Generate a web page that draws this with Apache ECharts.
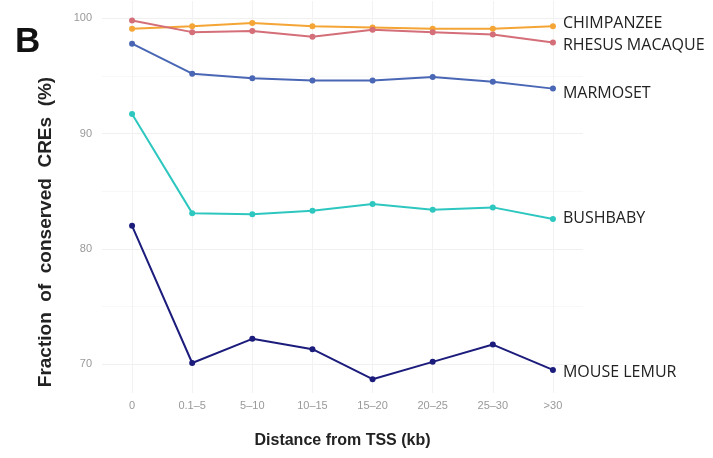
<!DOCTYPE html>
<html>
<head>
<meta charset="utf-8">
<script src="https://cdn.jsdelivr.net/npm/echarts@6/dist/echarts.min.js"></script>
</head>
<body style="margin: 0; padding: 0; background: #fff;">
<div id="chart" style="width: 713px; height: 458px;"></div>
<script>
// distance bins (kb)
const categories = ['0', '0.1\u20135', '5\u201310', '10\u201315', '15\u201320', '20\u201325', '25\u201330', '>30']

// fraction of conserved CREs (%) per species
const chimpanzee = [99.1, 99.3, 99.6, 99.3, 99.2, 99.1, 99.1, 99.3]
const rhesusMacaque = [99.8, 98.8, 98.9, 98.4, 99.0, 98.8, 98.6, 97.9]
const marmoset = [97.8, 95.2, 94.8, 94.6, 94.6, 94.9, 94.5, 93.9]
const bushbaby = [91.7, 83.1, 83.0, 83.3, 83.9, 83.4, 83.6, 82.6]
const mouseLemur = [82.0, 70.1, 72.2, 71.3, 68.7, 70.2, 71.7, 69.5]

const labelFont = '"Open Sans", "Liberation Sans", sans-serif'
const axisFont = '"Liberation Sans", Arial, sans-serif'

function makeSeries(name, data, color, offsetY) {
  return {
    name,
    type: 'line',
    data,
    symbol: 'circle',
    symbolSize: 6,
    lineStyle: { color, width: 2 },
    itemStyle: { color },
    endLabel: {
      show: true,
      formatter: '{a}',
      color: '#222',
      fontFamily: labelFont,
      fontSize: 16,
      distance: 10,
      offset: [0, offsetY]
    },
    animation: false,
    z: 3
  }
}

const chart = echarts.init(document.getElementById('chart'))
chart.setOption({
  backgroundColor: '#fff',
  title: {
    text: 'B',
    left: 10,
    top: 20,
    textStyle: { fontFamily: axisFont, fontWeight: 'bold', fontSize: 35, color: '#111' }
  },
  graphic: [{
    type: 'text',
    x: 46,
    y: 232,
    rotation: Math.PI / 2,
    style: {
      text: 'Fraction  of  conserved  CREs  (%)',
      font: 'bold 19px ' + axisFont,
      fill: '#222',
      align: 'center',
      verticalAlign: 'middle'
    }
  }],
  grid: { left: 102, right: 130, top: 1, height: 392 },
  xAxis: {
    type: 'category',
    data: categories,
    boundaryGap: true,
    name: 'Distance from TSS (kb)',
    nameLocation: 'middle',
    nameGap: 40,
    nameTextStyle: { fontFamily: axisFont, fontWeight: 'bold', fontSize: 16, color: '#222' },
    axisLine: { show: false },
    axisTick: { show: false, alignWithLabel: true },
    axisLabel: { color: '#999', fontSize: 11, margin: 7, fontFamily: axisFont },
    splitLine: { show: true, alignWithLabel: true, lineStyle: { color: '#f2f2f2', width: 1 } }
  },
  yAxis: {
    type: 'value',
    min: 67.5,
    max: 101.5,
    interval: 2.5,
    axisLine: { show: false },
    axisTick: { show: false },
    axisLabel: {
      color: '#999',
      fontSize: 11,
      margin: 10,
      fontFamily: axisFont,
      formatter: v => (Math.abs(v % 10) < 1e-6 ? String(v) : '')
    },
    splitLine: {
      show: true,
      lineStyle: { color: ['rgba(0,0,0,0)', '#f0f0f0', 'rgba(0,0,0,0)', '#f8f8f8'], width: 1 }
    }
  },
  series: [
    makeSeries('CHIMPANZEE', chimpanzee, '#f4a535', -3),
    makeSeries('RHESUS MACAQUE', rhesusMacaque, '#d46e78', 3),
    makeSeries('MARMOSET', marmoset, '#4a67b6', 5),
    makeSeries('BUSHBABY', bushbaby, '#2ec7c0', 0),
    makeSeries('MOUSE LEMUR', mouseLemur, '#1c1c7c', 2)
  ]
})
</script>
</body>
</html>
